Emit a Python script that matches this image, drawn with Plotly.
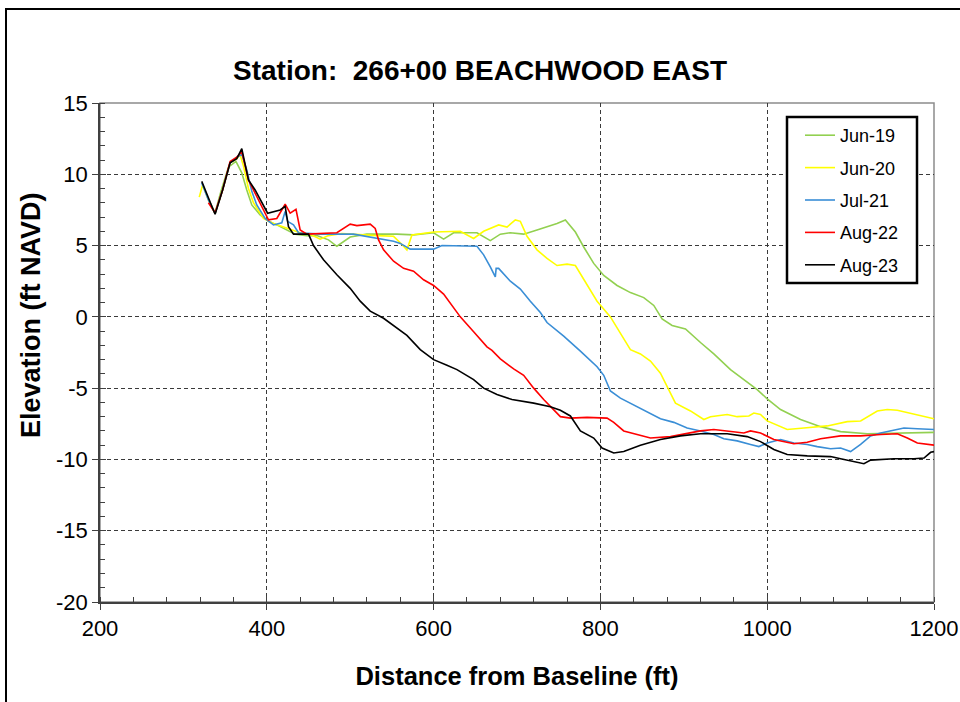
import plotly.graph_objects as go

# ---------------- data ----------------
series_names = ["Jun-19", "Jun-20", "Jul-21", "Aug-22", "Aug-23"]
series_colors = ["#92D050", "#FFFF00", "#3A8ED6", "#FF0000", "#000000"]

x_jun19 = [332, 338, 345, 354, 363, 370, 376, 382, 392, 402, 412, 424, 434, 448, 460, 474, 484,
           500, 520, 556, 576, 600, 612, 624, 652, 668, 680, 692, 708, 724, 748, 758, 770, 780,
           792, 804, 820, 836, 852, 864, 874, 886, 902, 920, 936, 956, 976, 988, 1000, 1016,
           1040, 1064, 1088, 1120, 1200]
y_jun19 = [8.0, 7.3, 8.8, 10.5, 10.9, 10.1, 8.9, 7.85, 7.15, 6.7, 6.45, 6.1, 5.8, 5.7, 5.7, 5.4, 4.95,
           5.6, 5.8, 5.8, 5.75, 5.9, 5.45, 5.9, 5.9, 5.35, 5.8, 5.9, 5.8, 6.1, 6.55, 6.8, 5.95, 4.9,
           3.75, 2.9, 2.2, 1.7, 1.35, 0.8, -0.15, -0.6, -0.85, -1.8, -2.6, -3.7, -4.55, -5.1, -5.75, -6.5,
           -7.2, -7.7, -8.05, -8.2, -8.1]

x_jun20 = [319, 323, 330, 338, 347, 356, 364, 368, 372, 378, 384, 396, 408, 420, 428, 440, 452, 464,
           474, 490, 532, 552, 560, 568, 574, 600, 632, 648, 660, 678, 688, 698, 704, 712, 724, 736,
           748, 760, 770, 784, 796, 812, 824, 836, 848, 860, 872, 884, 890, 908, 924, 932, 952, 964,
           978, 984, 992, 1000, 1024, 1044, 1072, 1096, 1112, 1132, 1144, 1156, 1168, 1180, 1200]
y_jun20 = [8.4, 9.25, 8.2, 7.25, 8.9, 10.8, 11.1, 11.35, 10.6, 9.0, 8.0, 6.9, 6.55, 6.3, 6.1, 5.9, 5.8, 5.45,
           5.7, 5.85, 5.7, 5.65, 5.2, 4.7, 5.75, 5.95, 6.0, 5.5, 6.0, 6.45, 6.3, 6.8, 6.7, 5.65, 4.7, 4.1,
           3.6, 3.7, 3.6, 2.3, 1.1, 0.0, -1.2, -2.3, -2.6, -3.1, -3.95, -5.35, -6.05, -6.6, -7.2, -7.0, -6.85, -7.0,
           -6.95, -6.75, -6.85, -7.3, -7.9, -7.8, -7.65, -7.35, -7.3, -6.6, -6.5, -6.55, -6.7, -6.85, -7.15]

x_jul21 = [322, 330, 338, 347, 356, 364, 370, 376, 382, 388, 398, 408, 418, 422, 425, 432, 438, 464,
           504, 528, 552, 560, 572, 600, 610, 652, 660, 668, 674, 675, 678, 692, 704, 716, 728, 736,
           756, 776, 796, 804, 812, 824, 840, 856, 872, 888, 904, 920, 936, 948, 964, 980, 990, 1000,
           1016, 1032, 1048, 1060, 1076, 1088, 1100, 1112, 1124, 1136, 1152, 1164, 1180, 1200]
y_jul21 = [9.4, 8.2, 7.25, 8.9, 10.8, 11.2, 11.4, 10.3, 8.8, 7.85, 6.9, 6.45, 6.6, 7.4, 6.7, 6.45, 5.9, 5.8,
           5.8, 5.55, 5.3, 5.15, 4.75, 4.75, 5.0, 4.95, 4.35, 3.5, 2.8, 3.4, 3.4, 2.5, 1.95, 1.1, 0.3, -0.4,
           -1.35, -2.4, -3.5, -4.1, -5.2, -5.7, -6.2, -6.7, -7.15, -7.4, -7.8, -8.0, -8.25, -8.55, -8.7, -8.95, -9.1, -8.85,
           -8.6, -8.85, -8.95, -9.1, -9.25, -9.2, -9.45, -8.95, -8.35, -8.15, -7.95, -7.8, -7.85, -7.9]

x_aug22 = [330, 338, 347, 356, 364, 370, 378, 388, 402, 412, 422, 428, 435, 440, 448, 484, 500, 508,
           524, 530, 534, 540, 552, 564, 576, 588, 600, 612, 624, 632, 648, 664, 670, 680, 696, 708,
           720, 732, 752, 764, 784, 808, 816, 828, 844, 860, 884, 896, 920, 936, 952, 972, 980, 992,
           1008, 1032, 1048, 1064, 1088, 1112, 1136, 1156, 1168, 1180, 1200]
y_aug22 = [8.0, 7.3, 8.9, 10.9, 11.2, 11.6, 9.6, 8.4, 6.8, 6.9, 7.9, 7.27, 7.55, 6.1, 5.8, 5.9, 6.5, 6.4,
           6.5, 6.2, 5.4, 4.7, 3.9, 3.4, 3.2, 2.6, 2.2, 1.6, 0.65, 0.0, -1.05, -2.1, -2.35, -2.95, -3.65, -4.1,
           -5.0, -5.8, -7.0, -7.1, -7.05, -7.1, -7.4, -8.0, -8.25, -8.5, -8.4, -8.25, -8.0, -7.9, -8.0, -8.15, -8.0, -8.15,
           -8.6, -8.9, -8.8, -8.55, -8.35, -8.35, -8.25, -8.2, -8.5, -8.85, -9.0]

x_aug23 = [322, 330, 338, 347, 356, 364, 370, 378, 386, 401, 416, 422, 426, 432, 450, 456, 468, 484,
           500, 512, 524, 540, 552, 568, 584, 600, 616, 628, 648, 660, 676, 694, 720, 740, 752, 764,
           776, 792, 802, 816, 828, 848, 872, 896, 920, 952, 976, 992, 1008, 1024, 1048, 1076, 1088,
           1100, 1116, 1124, 1152, 1176, 1188, 1196, 1200]
y_aug23 = [9.5, 8.3, 7.2, 8.9, 10.8, 11.1, 11.8, 9.6, 8.9, 7.27, 7.5, 7.75, 6.33, 5.8, 5.8, 5.0, 4.0, 2.95,
           2.0, 1.1, 0.4, -0.1, -0.6, -1.3, -2.3, -3.0, -3.4, -3.7, -4.4, -5.0, -5.45, -5.8, -6.05, -6.3, -6.55, -6.95,
           -8.0, -8.5, -9.2, -9.55, -9.45, -9.0, -8.6, -8.35, -8.2, -8.2, -8.4, -8.75, -9.3, -9.65, -9.75, -9.8, -9.95,
           -10.1, -10.3, -10.05, -9.95, -9.95, -9.9, -9.5, -9.45]

x_range = [200, 1200]
y_range = [-20, 15]
x_tick_vals = [200, 400, 600, 800, 1000, 1200]
x_tick_text = ["200", "400", "600", "800", "1000", "1200"]
y_tick_vals = [-20, -15, -10, -5, 0, 5, 10, 15]
y_tick_text = ["-20", "-15", "-10", "-5", "0", "5", "10", "15"]

title_text = "Station:  266+00 BEACHWOOD EAST"
x_title = "Distance from Baseline (ft)"
y_title = "Elevation (ft NAVD)"

# ---------------- figure ----------------
FONT = "Liberation Sans, Arial, sans-serif"
xs = [x_jun19, x_jun20, x_jul21, x_aug22, x_aug23]
ys = [y_jun19, y_jun20, y_jul21, y_aug22, y_aug23]

fig = go.Figure()
for name, color, xv, yv in zip(series_names, series_colors, xs, ys):
    fig.add_trace(go.Scatter(x=xv, y=yv, name=name, mode="lines",
                             line=dict(color=color, width=1.6),
                             legendgroup=name))

# empty trace to host the overlay axes (inner half of the crossing major ticks)
fig.add_trace(go.Scatter(x=[], y=[], xaxis="x2", yaxis="y2", showlegend=False,
                         hoverinfo="skip"))

grid_style = dict(showgrid=True, gridcolor="#3a3a3a", gridwidth=1, griddash="4px,3px")

W = 834.0
H = 499.0
def px(xp):
    return (xp - 100) / W
def py(yp):
    return (602 - yp) / H

fig.update_layout(
    width=960, height=702,
    margin=dict(l=100, r=26, t=103, b=100, autoexpand=False),
    paper_bgcolor="white", plot_bgcolor="white",
    font=dict(family=FONT, color="black"),
    title=dict(text=title_text, x=0.5, xanchor="center", y=1 - 70 / 702, yanchor="middle",
               font=dict(size=28, weight="bold", family=FONT)),
    xaxis=dict(range=x_range, tickmode="array", tickvals=x_tick_vals, ticktext=x_tick_text,
               zeroline=False, automargin=False,
               showline=True, linecolor="#404040", linewidth=1.5,
               ticks="outside", ticklen=6, tickcolor="#404040", tickwidth=1,
               minor=dict(dtick=40, tick0=200, ticks="inside", ticklen=5, tickcolor="#404040",
                          showgrid=False),
               tickfont=dict(size=22, family=FONT),
               title=dict(text=x_title, font=dict(size=25.5, weight="bold", family=FONT), standoff=27),
               **grid_style),
    yaxis=dict(range=y_range, tickmode="array", tickvals=y_tick_vals, ticktext=y_tick_text,
               zeroline=False, automargin=False,
               showline=True, linecolor="#404040", linewidth=1.5,
               ticks="outside", ticklen=6, tickcolor="#404040", tickwidth=1,
               minor=dict(dtick=1, tick0=0, ticks="inside", ticklen=5, tickcolor="#404040",
                          showgrid=False),
               tickfont=dict(size=22, family=FONT),
               **grid_style),
    xaxis2=dict(overlaying="x", matches="x", range=x_range, tickmode="array", tickvals=x_tick_vals,
                showgrid=False, zeroline=False, showline=False, showticklabels=False,
                automargin=False,
                ticks="inside", ticklen=6, tickcolor="#404040", tickwidth=1),
    yaxis2=dict(overlaying="y", matches="y", range=y_range, tickmode="array", tickvals=y_tick_vals,
                showgrid=False, zeroline=False, showline=False, showticklabels=False,
                automargin=False,
                ticks="inside", ticklen=6, tickcolor="#404040", tickwidth=1),
    showlegend=True,
    legend=dict(x=px(800), xanchor="left", y=py(117), yanchor="top",
                bgcolor="rgba(0,0,0,0)", borderwidth=0,
                font=dict(size=18, family=FONT), tracegroupgap=6,
                traceorder="grouped"),
    annotations=[dict(text=y_title, xref="paper", yref="paper", x=px(31), y=py(315),
                      xanchor="center", yanchor="middle", textangle=-90, showarrow=False,
                      font=dict(size=27, weight="bold", family=FONT))],
)

# plot-area frame (top/right in grey)
fig.add_shape(type="rect", xref="paper", yref="paper", x0=0, x1=1, y0=0, y1=1,
              line=dict(color="#8c8c8c", width=1.5), layer="below")
# legend box
fig.add_shape(type="rect", xref="paper", yref="paper",
              x0=px(787), x1=px(917), y0=py(283), y1=py(117),
              line=dict(color="black", width=2.5), fillcolor="white", layer="above")
# outer chart border
fig.add_shape(type="rect", xref="paper", yref="paper",
              x0=px(6), x1=px(975), y0=py(720), y1=py(9),
              line=dict(color="black", width=2), layer="above")

fig.write_html("out.html")
